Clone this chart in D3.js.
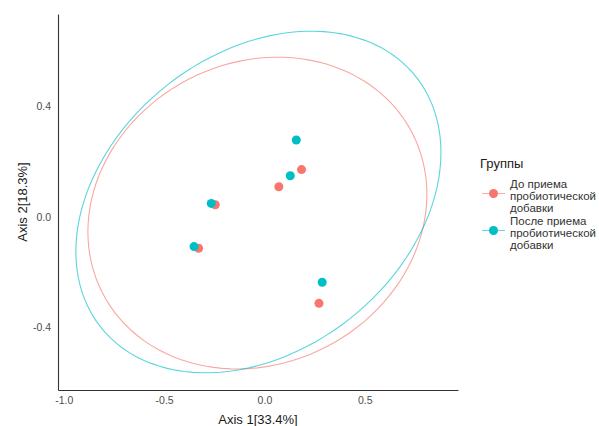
<!DOCTYPE html>
<html>
<head>
<meta charset="utf-8">
<script src="https://d3js.org/d3.v7.min.js"></script>
<style>
  body { margin: 0; background: #fff; }
  text { font-family: "Liberation Sans", Arial, sans-serif; }
</style>
</head>
<body>
<div id="chart"></div>
<script>
const width = 599
const height = 426

const groups = ["До приема пробиотической добавки", "После приема пробиотической добавки"]
const groupLines = [["До приема", "пробиотической", "добавки"], ["После приема", "пробиотической", "добавки"]]
const colors = ["#F8766D", "#00BFC4"]

// PCoA coordinates per group
const axis1Before = [0.185, 0.072, -0.245, -0.328, 0.272]
const axis2Before = [0.170, 0.108, 0.043, -0.114, -0.313]
const axis1After = [0.159, 0.129, -0.265, -0.351, 0.288]
const axis2After = [0.277, 0.148, 0.048, -0.108, -0.237]

// ellipse: centre x, centre y, half width, half height, correlation-ish shape term
const ellipseBefore = [-0.035, 0.013, 0.845, 0.563, 0.12]
const ellipseAfter = [-0.030, 0.053, 0.910, 0.617, 0.29]

const xTicks = [-1.0, -0.5, 0.0, 0.5]
const yTicks = [-0.4, 0.0, 0.4]

const xScale = d3.scaleLinear().domain([-1.029, 0.965]).range([58, 458])
const yScale = d3.scaleLinear().domain([-0.626, 0.732]).range([390, 14])

const svg = d3.select("#chart").append("svg")
    .attr("width", width).attr("height", height)

const series = [
    { pts: d3.zip(axis1Before, axis2Before), ell: ellipseBefore },
    { pts: d3.zip(axis1After, axis2After), ell: ellipseAfter }
]

const ellipsePoints = (e) => {
    const phi = Math.acos(e[4])
    return d3.range(0, 2 * Math.PI + 0.01, Math.PI / 60).map(t =>
        [e[0] + e[2] * Math.cos(t), e[1] + e[3] * Math.cos(t - phi)])
}

const line = d3.line().x(d => xScale(d[0])).y(d => yScale(d[1]))

// ellipses
series.forEach((s, i) => {
    svg.append("path")
        .attr("d", line(ellipsePoints(s.ell)))
        .attr("fill", "none")
        .attr("stroke", colors[i])
        .attr("stroke-opacity", 0.65)
        .attr("stroke-width", 1.1)
})

// points
series.forEach((s, i) => {
    svg.append("g").selectAll("circle")
        .data(s.pts)
        .enter()
        .append("circle")
        .attr("cx", d => xScale(d[0]))
        .attr("cy", d => yScale(d[1]))
        .attr("r", 4.5)
        .attr("fill", colors[i])
})

// axes
const xAxis = svg.append("g")
    .attr("transform", "translate(0,390)")
    .call(d3.axisBottom(xScale).tickValues(xTicks).tickFormat(d3.format(".1f")).tickSize(0).tickPadding(7))
const yAxis = svg.append("g")
    .attr("transform", "translate(58,0)")
    .call(d3.axisLeft(yScale).tickValues(yTicks).tickFormat(d3.format(".1f")).tickSize(0).tickPadding(7))

;[xAxis, yAxis].forEach(a => {
    a.select(".domain").attr("stroke", "#333").attr("stroke-width", 1.1)
    a.selectAll("text").attr("fill", "#4D4D4D").style("font-size", "10.5px")
        .style("font-family", "'Liberation Sans', Arial, sans-serif")
})
xAxis.selectAll("text").text(d => d3.format(".1f")(d).replace("−", "-"))
yAxis.selectAll("text").text(d => d3.format(".1f")(d).replace("−", "-"))

svg.append("text")
    .attr("x", 258).attr("y", 424)
    .attr("text-anchor", "middle")
    .attr("fill", "#1a1a1a")
    .style("font-size", "13px")
    .text("Axis 1[33.4%]")

svg.append("text")
    .attr("transform", "translate(27,202) rotate(-90)")
    .attr("text-anchor", "middle")
    .attr("fill", "#1a1a1a")
    .style("font-size", "13px")
    .text("Axis 2[18.3%]")

// legend
const legend = svg.append("g").attr("transform", "translate(480,0)")
legend.append("text")
    .attr("x", 0).attr("y", 168)
    .attr("fill", "#1a1a1a")
    .style("font-size", "13px")
    .text("Группы")

groups.forEach((g, i) => {
    const cy = 193.5 + i * 37
    legend.append("line")
        .attr("x1", 2).attr("x2", 25)
        .attr("y1", cy).attr("y2", cy)
        .attr("stroke", colors[i]).attr("stroke-opacity", 0.6)
    legend.append("circle")
        .attr("cx", 13.5).attr("cy", cy).attr("r", 4.5)
        .attr("fill", colors[i])
    groupLines[i].forEach((t, j) => {
        legend.append("text")
            .attr("x", 30).attr("y", cy - 10 + j * 12.4 + 4)
            .attr("fill", "#333")
            .style("font-size", "11.5px")
            .text(t)
    })
})
</script>
</body>
</html>
